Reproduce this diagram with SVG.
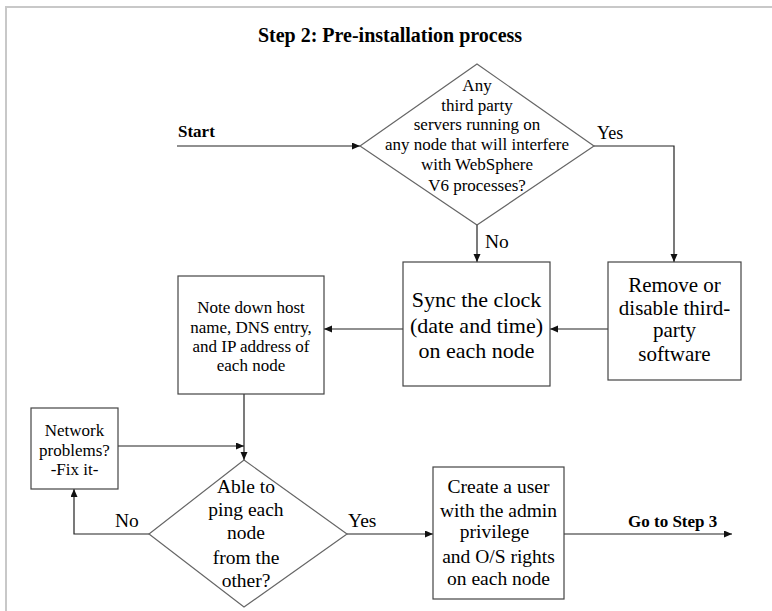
<svg xmlns="http://www.w3.org/2000/svg" width="772" height="611" viewBox="0 0 772 611" font-family="Liberation Serif, DejaVu Serif, serif">
<style>
text{font-family:"Liberation Serif","DejaVu Serif",serif;fill:#000;}
.t{text-anchor:middle;}
.b{font-weight:bold;}
.box{fill:#fff;stroke:#444;stroke-width:1.2;}
.dia{fill:#fff;stroke:#666;stroke-width:1.2;}
.c{fill:none;stroke:#222;stroke-width:1.2;marker-end:url(#ah);}
.frame{stroke:#c8c8c8;stroke-width:2;fill:none;}
</style>
<defs>
<marker id="ah" markerUnits="userSpaceOnUse" markerWidth="9" markerHeight="8" refX="8" refY="3.5" orient="auto">
<path d="M0,0 L8,3.5 L0,7 z" fill="#111"/>
</marker>
</defs>
<rect width="772" height="611" fill="#fff"/>
<path class="frame" d="M6,611 L6,7 L772,7"/>
<text x="390" y="42" class="t b" font-size="20">Step 2: Pre-installation process</text>

<g id="connectors">
<path class="c" d="M177,146 L360,146"/>
<path class="c" d="M594,146 L674,146 L674,262"/>
<path class="c" d="M477,225 L477,262"/>
<path class="c" d="M608,329 L550,329"/>
<path class="c" d="M403,329 L324,329"/>
<path class="c" d="M244,394 L244,460"/>
<path class="c" d="M118,446 L244,446"/>
<path class="c" d="M149,534 L74,534 L74,489"/>
<path class="c" d="M347,534 L433,534"/>
<path class="c" d="M564,534 L732,534"/>
<text x="178" y="137" class="b" font-size="17">Start</text>
<text x="597" y="139" font-size="18">Yes</text>
<text x="485" y="248" font-size="19.5">No</text>
<text x="115" y="527" font-size="19.5">No</text>
<text x="348" y="527" font-size="19.5">Yes</text>
<text x="628" y="527" class="b" font-size="17">Go to Step 3</text>
</g>

<g id="decision1">
<polygon class="dia" points="477,64 594,146 477,225 360,146"/>
<g class="t" font-size="17">
<text x="477" y="91">Any</text>
<text x="477" y="111">third party</text>
<text x="477" y="130">servers running on</text>
<text x="477" y="150">any node that will interfere</text>
<text x="477" y="170">with WebSphere</text>
<text x="477" y="191">V6 processes?</text>
</g>
</g>

<g id="sync">
<rect class="box" x="403" y="262" width="147" height="124"/>
<g class="t" font-size="22">
<text x="476.5" y="307">Sync the clock</text>
<text x="476.5" y="333">(date and time)</text>
<text x="476.5" y="358">on each node</text>
</g>
</g>

<g id="remove">
<rect class="box" x="608" y="262" width="133" height="118"/>
<g class="t" font-size="21">
<text x="674.5" y="292">Remove or</text>
<text x="674.5" y="315">disable third-</text>
<text x="674.5" y="337">party</text>
<text x="674.5" y="361">software</text>
</g>
</g>

<g id="note">
<rect class="box" x="178" y="276" width="146" height="118"/>
<g class="t" font-size="17">
<text x="251" y="313">Note down host</text>
<text x="251" y="333">name, DNS entry,</text>
<text x="251" y="352">and IP address of</text>
<text x="251" y="371">each node</text>
</g>
</g>

<g id="network">
<rect class="box" x="31" y="408" width="87" height="81"/>
<g class="t" font-size="17">
<text x="74.5" y="436">Network</text>
<text x="74.5" y="456">problems?</text>
<text x="74.5" y="475">-Fix it-</text>
</g>
</g>

<g id="decision2">
<polygon class="dia" points="244,460 347,534 244,607 149,534"/>
<g class="t" font-size="19.5">
<text x="246" y="493">Able to</text>
<text x="246" y="516">ping each</text>
<text x="246" y="539">node</text>
<text x="246" y="564">from the</text>
<text x="246" y="587">other?</text>
</g>
</g>

<g id="createuser">
<rect class="box" x="433" y="467" width="131" height="132"/>
<g class="t" font-size="19.5">
<text x="498.5" y="493">Create a user</text>
<text x="498.5" y="517">with the admin</text>
<text x="494.5" y="538">privilege</text>
<text x="498.5" y="563">and O/S rights</text>
<text x="498.5" y="585">on each node</text>
</g>
</g>
</svg>
